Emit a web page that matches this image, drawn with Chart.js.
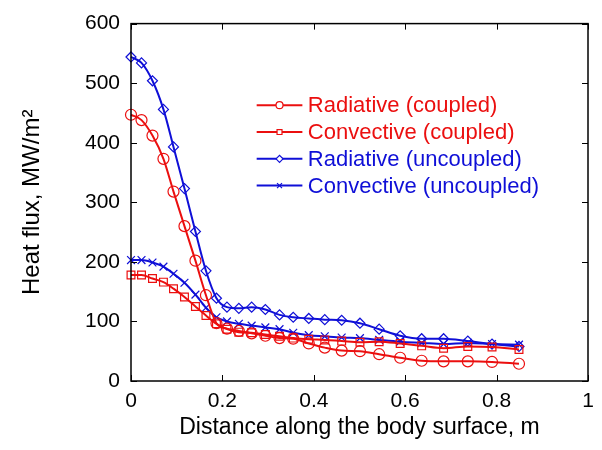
<!DOCTYPE html>
<html>
<head>
<meta charset="utf-8">
<script src="https://cdn.jsdelivr.net/npm/chart.js@4.4.0/dist/chart.umd.min.js"></script>
<style>
  html, body { margin: 0; padding: 0; background: #fff; }
  #wrap { width: 602px; height: 450px; position: relative; }
</style>
</head>
<body>
<div id="wrap"><canvas id="chartFlux"></canvas></div>
<script>
'use strict';

// distance along the body surface, m (shared by all series)
var distance = [0, 0.023, 0.047, 0.071, 0.093, 0.117, 0.141, 0.164, 0.187, 0.21, 0.236, 0.264, 0.294,
  0.325, 0.355, 0.389, 0.424, 0.461, 0.501, 0.543, 0.589, 0.636, 0.684, 0.737, 0.79, 0.849];

var radCoupled = [447, 438, 412, 373, 318, 260, 202, 144, 97, 88, 84, 80, 76,
  72, 71, 63, 56, 51, 50, 45, 39, 34, 33, 33, 32, 29];
var convCoupled = [178, 178, 172, 166, 155, 141, 125, 110, 96, 87, 82, 81, 78,
  75, 72, 70, 69, 67, 65, 66, 63, 59, 55, 58, 57, 53];
var radUncoupled = [544, 534, 504, 456, 393, 323, 251, 185, 139, 124, 122, 124, 120,
  111, 107, 105, 103, 102, 97, 87, 76, 71, 71, 67, 62, 58];
var convUncoupled = [203, 203, 199, 192, 180, 165, 145, 123, 107, 100, 96, 93, 90,
  87, 81, 77, 75, 73, 72, 69, 66, 64, 62, 64, 62, 61];

var seriesNames = ['Radiative (coupled)', 'Convective (coupled)', 'Radiative (uncoupled)', 'Convective (uncoupled)'];
var xTicks = [0, 0.2, 0.4, 0.6, 0.8, 1];
var yTicks = [0, 100, 200, 300, 400, 500, 600];

var RED = 'rgb(235, 15, 15)';
var BLUE = 'rgb(15, 15, 215)';
var FONT = 'Arial, "Liberation Sans", sans-serif';

function toPoints(ys) {
  return ys.map(function (y, i) { return { x: distance[i], y: y }; });
}

function makeSet(label, ys, color, style, radius) {
  return {
    label: label,
    data: toPoints(ys),
    showLine: true,
    borderColor: color,
    backgroundColor: 'rgba(0,0,0,0)',
    borderWidth: 2,
    cubicInterpolationMode: 'monotone',
    pointStyle: style,
    pointRadius: radius,
    pointBorderColor: color,
    pointBorderWidth: 1.2,
    pointBackgroundColor: 'rgba(0,0,0,0)',
    clip: false
  };
}

var datasets = [
  makeSet(seriesNames[0], radCoupled, RED, 'circle', 5.5),
  makeSet(seriesNames[1], convCoupled, RED, 'rect', 5.5),
  makeSet(seriesNames[2], radUncoupled, BLUE, 'rectRot', 5),
  makeSet(seriesNames[3], convUncoupled, BLUE, 'crossRot', 5.5)
];

// frame with inward ticks + in-plot legend
var framePlugin = {
  id: 'frame',
  afterDraw: function (chart) {
    var ctx = chart.ctx;
    var a = chart.chartArea;
    var xs = chart.scales.x, ys = chart.scales.y;
    ctx.save();
    ctx.strokeStyle = '#000';
    ctx.lineWidth = 1.5;
    ctx.strokeRect(a.left, a.top, a.right - a.left, a.bottom - a.top);
    ctx.lineWidth = 1;
    var t = 6;
    xTicks.forEach(function (v) {
      var px = Math.round(xs.getPixelForValue(v)) + 0.5;
      ctx.beginPath();
      ctx.moveTo(px, a.bottom); ctx.lineTo(px, a.bottom - t);
      ctx.moveTo(px, a.top); ctx.lineTo(px, a.top + t);
      ctx.stroke();
    });
    yTicks.forEach(function (v) {
      var py = Math.round(ys.getPixelForValue(v)) + 0.5;
      ctx.beginPath();
      ctx.moveTo(a.left, py); ctx.lineTo(a.left + t, py);
      ctx.moveTo(a.right, py); ctx.lineTo(a.right - t, py);
      ctx.stroke();
    });

    // legend
    var rowVals = [463, 418, 373, 328];
    var x0 = xs.getPixelForValue(0.275), x1 = xs.getPixelForValue(0.375);
    var xm = (x0 + x1) / 2;
    var xt = xs.getPixelForValue(0.387);
    ctx.font = '22px ' + FONT;
    ctx.textBaseline = 'middle';
    ctx.textAlign = 'left';
    chart.data.datasets.forEach(function (ds, i) {
      var py = ys.getPixelForValue(rowVals[i]);
      ctx.strokeStyle = ds.borderColor;
      ctx.lineWidth = 2;
      ctx.beginPath();
      ctx.moveTo(x0, py); ctx.lineTo(x1, py);
      ctx.stroke();
      ctx.fillStyle = '#fff';
      ctx.lineWidth = 1.2;
      Chart.helpers.drawPoint(ctx, { pointStyle: ds.pointStyle, radius: 3.5, borderWidth: 1.2, rotation: 0 }, xm, py);
      ctx.fillStyle = ds.borderColor;
      ctx.fillText(ds.label, xt, py + 1);
    });
    ctx.restore();
  }
};

new Chart(document.getElementById('chartFlux').getContext('2d'), {
  type: 'scatter',
  data: { datasets: datasets },
  options: {
    animation: false,
    responsive: true,
    maintainAspectRatio: false,
    layout: { padding: { left: 18, right: 14, top: 19, bottom: 0 } },
    plugins: { legend: { display: false }, tooltip: { enabled: false } },
    scales: {
      x: {
        type: 'linear',
        min: 0, max: 1,
        afterBuildTicks: function (s) { s.ticks = xTicks.map(function (v) { return { value: v }; }); },
        afterFit: function (s) { s.height = 69; },
        grid: { display: false, drawTicks: false },
        border: { display: false },
        ticks: {
          color: '#000', padding: 8,
          font: { family: FONT, size: 21 },
          maxRotation: 0,
          callback: function (v) { return String(v); }
        },
        title: {
          display: true,
          text: 'Distance along the body surface, m',
          color: '#000',
          font: { family: FONT, size: 23 },
          padding: { top: 0, bottom: 9 }
        }
      },
      y: {
        type: 'linear',
        min: 0, max: 600,
        afterBuildTicks: function (s) { s.ticks = yTicks.map(function (v) { return { value: v }; }); },
        afterFit: function (s) { s.width = 113; },
        grid: { display: false, drawTicks: false },
        border: { display: false },
        ticks: {
          color: '#000', padding: 11,
          font: { family: FONT, size: 21 },
          callback: function (v) { return String(v); }
        },
        title: {
          display: true,
          text: 'Heat flux, MW/m\u00b2',
          color: '#000',
          font: { family: FONT, size: 24 },
          padding: { top: 0, bottom: 0 }
        }
      }
    }
  },
  plugins: [framePlugin]
});
</script>
</body>
</html>
